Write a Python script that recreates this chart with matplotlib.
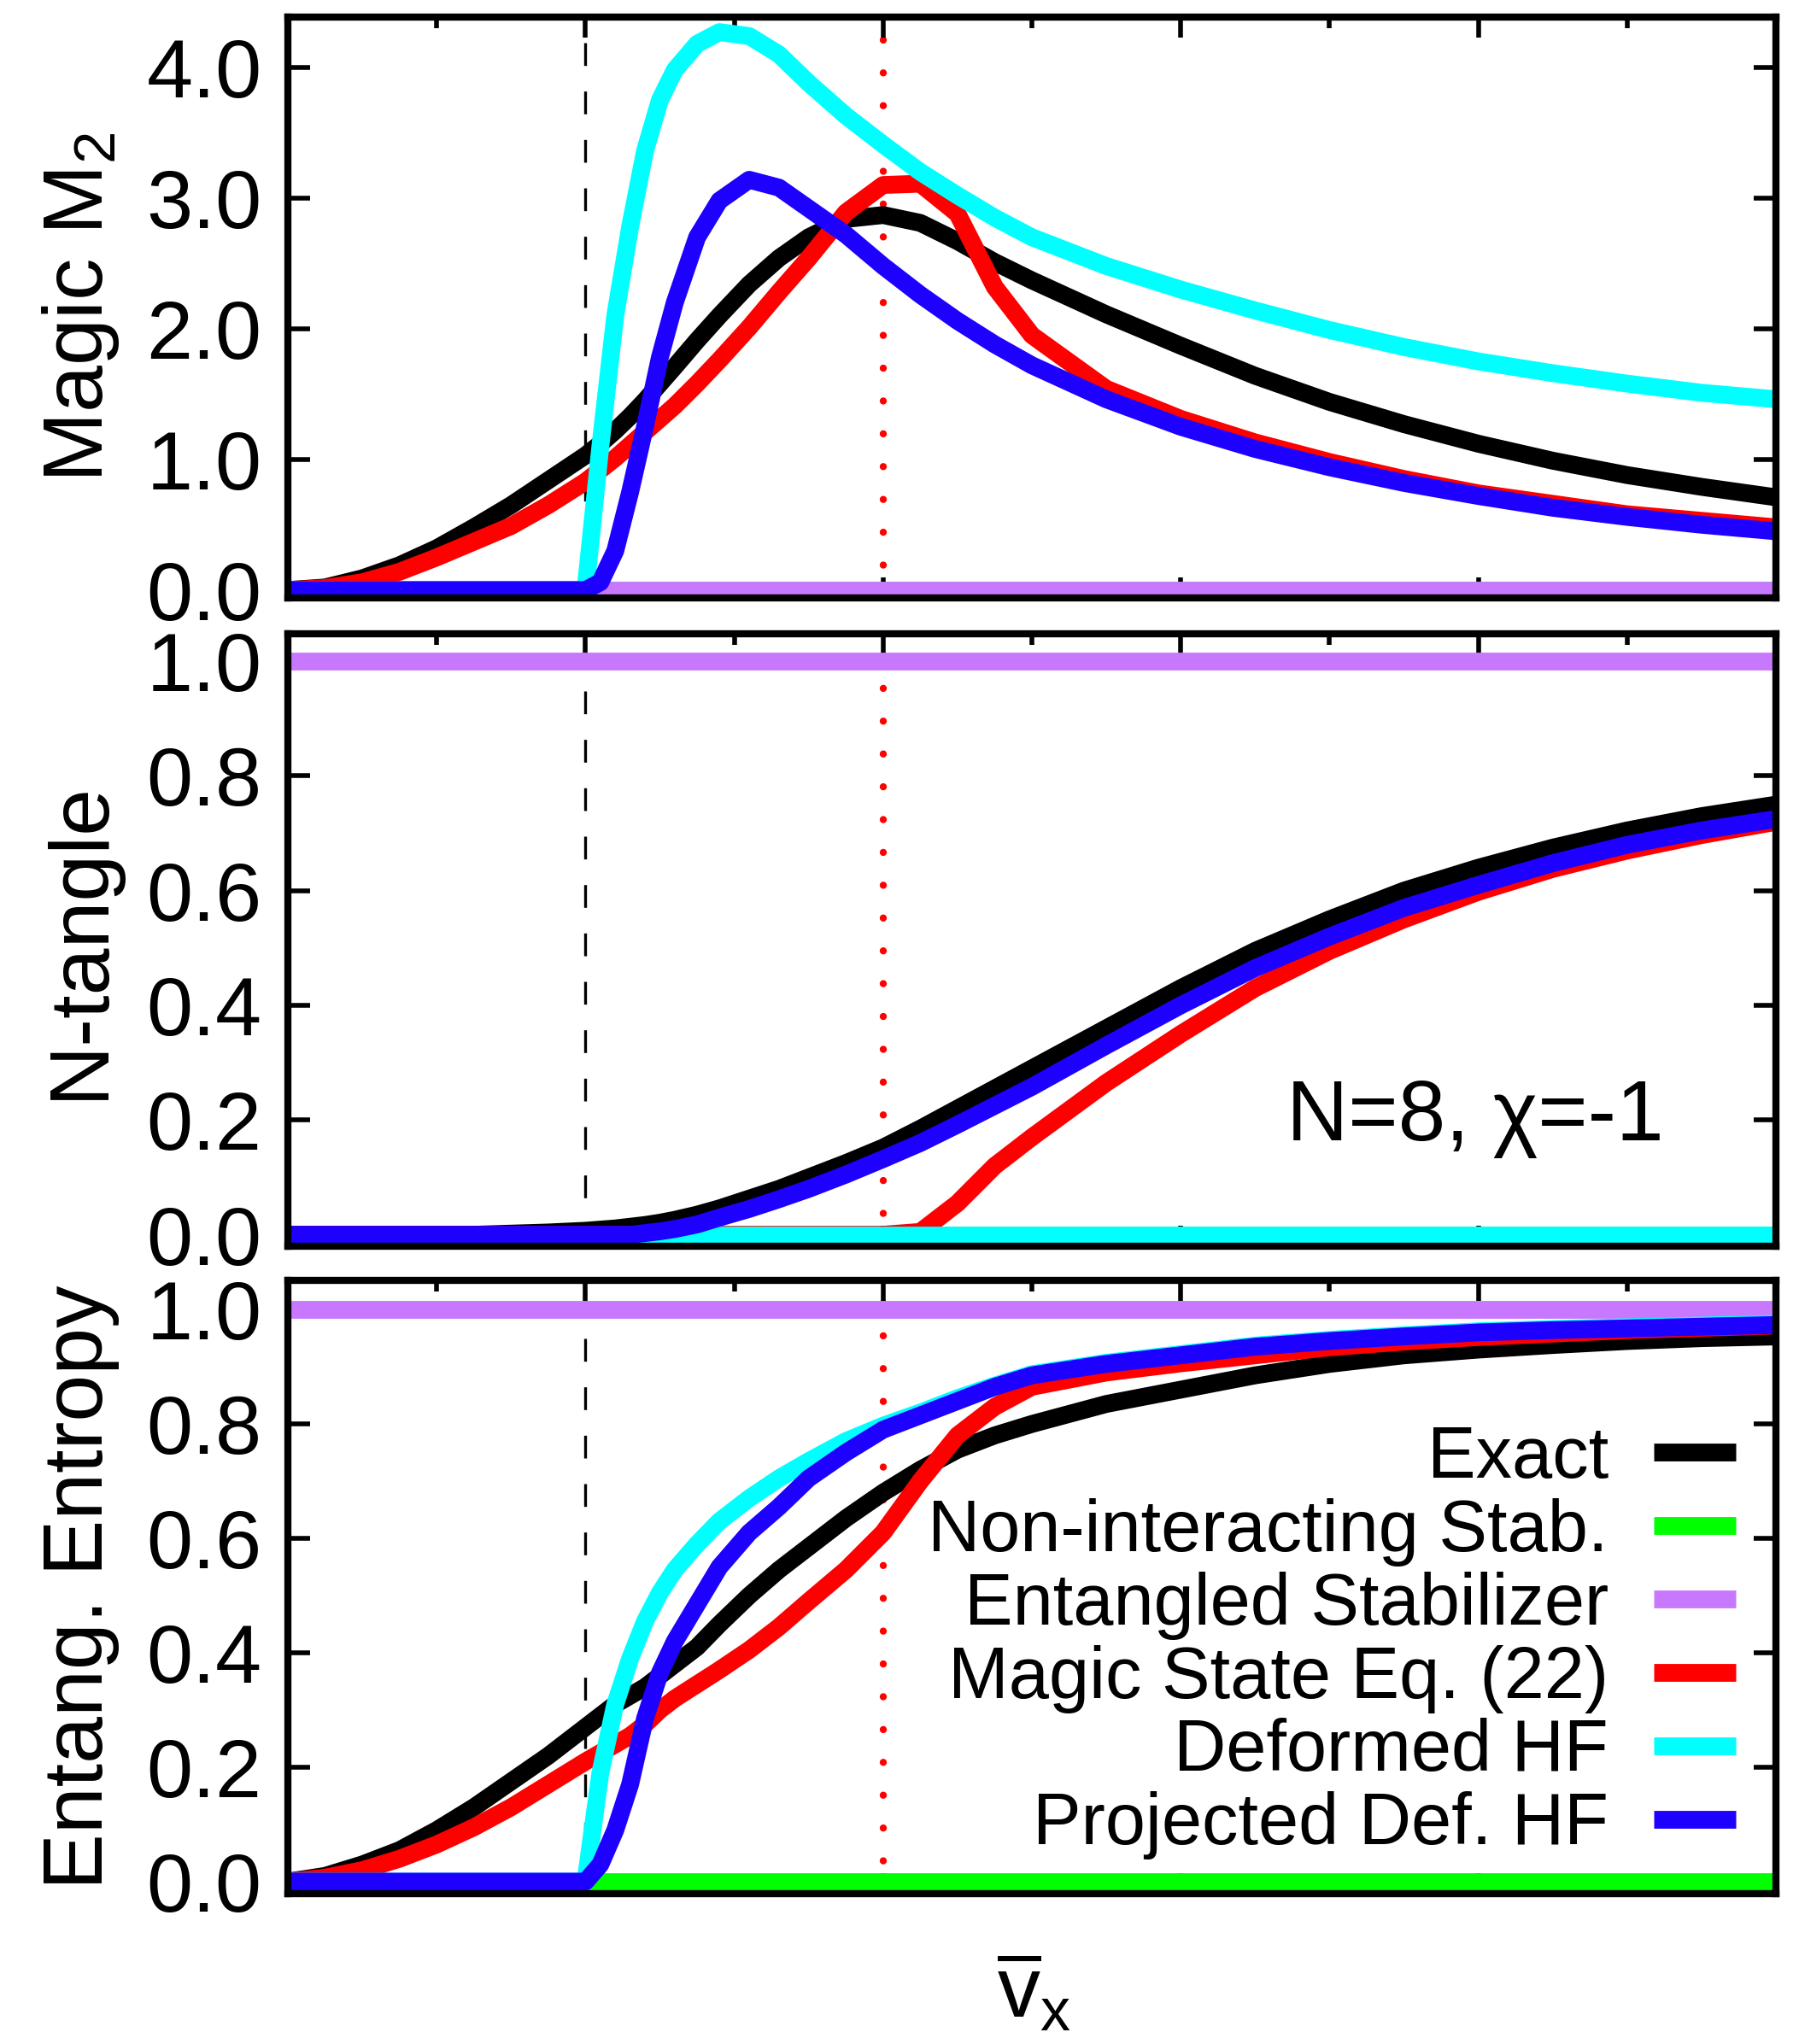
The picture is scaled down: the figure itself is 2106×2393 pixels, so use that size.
import matplotlib
matplotlib.use('Agg')
import matplotlib.pyplot as plt

plt.rcParams['font.family'] = ['Liberation Sans', 'DejaVu Sans']
plt.rcParams['mathtext.fontset'] = 'custom'
plt.rcParams['mathtext.rm'] = 'Liberation Sans'
plt.rcParams['mathtext.it'] = 'Liberation Sans:italic'
plt.rcParams['mathtext.bf'] = 'Liberation Sans:bold'
plt.rcParams['lines.solid_capstyle'] = 'butt'

# x grid (v_x bar)
vx = [0.0, 0.05, 0.1, 0.15, 0.2, 0.25, 0.3, 0.35,
      0.4, 0.42, 0.44, 0.46, 0.48,
      0.5, 0.52, 0.55, 0.58,
      0.62, 0.66, 0.7, 0.75,
      0.8, 0.85, 0.9, 0.95,
      1.0,
      1.1, 1.2, 1.3, 1.4, 1.5, 1.6, 1.7, 1.8, 1.9, 2.0]
# constant curves only need their end points
vx_flat = [0.0, 2.0]

# --- magic M2 (top panel)
magic_exact = [0.0, 0.02, 0.09, 0.19, 0.32, 0.48, 0.65, 0.84,
               1.03, 1.12, 1.22, 1.33, 1.45,
               1.58, 1.71, 1.91, 2.10,
               2.34, 2.54, 2.70, 2.84,
               2.87, 2.81, 2.67, 2.51,
               2.37,
               2.11, 1.87, 1.64, 1.44, 1.27, 1.12, 0.99, 0.88, 0.79, 0.71]
magic_stab = [0.0, 0.0]
magic_ent = [0.0, 0.0]
magic_state = [0.0, 0.015, 0.06, 0.14, 0.25, 0.37, 0.49, 0.65,
               0.83, 0.92, 1.01, 1.11, 1.21,
               1.31, 1.41, 1.58, 1.76,
               2.01, 2.28, 2.54, 2.89,
               3.10, 3.11, 2.88, 2.32,
               1.95,
               1.54, 1.31, 1.13, 0.98, 0.85, 0.74, 0.66, 0.58, 0.53, 0.48]
magic_dhf = [0.0, 0.0, 0.0, 0.0, 0.0, 0.0, 0.0, 0.0,
             0.0, 1.10, 2.10, 2.78, 3.36,
             3.75, 3.98, 4.18, 4.27,
             4.24, 4.10, 3.88, 3.63,
             3.41, 3.20, 3.02, 2.85,
             2.70,
             2.48, 2.30, 2.14, 1.99, 1.86, 1.75, 1.66, 1.58, 1.51, 1.46]
magic_pdhf = [0.0, 0.0, 0.0, 0.0, 0.0, 0.0, 0.0, 0.0,
              0.0, 0.06, 0.30, 0.75, 1.25,
              1.78, 2.20, 2.70, 2.98,
              3.14, 3.08, 2.92, 2.72,
              2.48, 2.26, 2.06, 1.88,
              1.72,
              1.46, 1.25, 1.08, 0.94, 0.82, 0.72, 0.63, 0.56, 0.50, 0.45]

# --- N-tangle (middle panel)
tangle_exact = [0.0, 0.0, 0.0, 0.0, 0.0, 0.0, 0.002, 0.004,
                0.007, 0.009, 0.011, 0.014, 0.017,
                0.021, 0.026, 0.035, 0.046,
                0.063, 0.08, 0.10, 0.125,
                0.152, 0.185, 0.22, 0.255,
                0.29,
                0.36, 0.43, 0.495, 0.55, 0.60, 0.64, 0.675, 0.705, 0.73, 0.75]
tangle_stab = [0.0, 0.0]
tangle_ent = [1.0, 1.0]
tangle_state = [0.0, 0.0, 0.0, 0.0, 0.0, 0.0, 0.0, 0.0,
                0.0, 0.0, 0.0, 0.0, 0.0,
                0.0, 0.0, 0.0, 0.0,
                0.0, 0.0, 0.0, 0.0,
                0.0, 0.005, 0.055, 0.12,
                0.17,
                0.265, 0.35, 0.43, 0.495, 0.55, 0.598, 0.638, 0.67, 0.697, 0.72]
tangle_dhf = [0.0, 0.0]
tangle_pdhf = [0.0, 0.0, 0.0, 0.0, 0.0, 0.0, 0.0, 0.0,
               0.0, 0.0, 0.0, 0.0, 0.003,
               0.006, 0.01, 0.018, 0.03,
               0.045, 0.062, 0.08, 0.105,
               0.132, 0.16, 0.192, 0.225,
               0.258,
               0.33, 0.40, 0.465, 0.52, 0.57, 0.61, 0.648, 0.68, 0.705, 0.725]

# --- entanglement entropy (bottom panel)
ent_exact = [0.0, 0.01, 0.03, 0.055, 0.09, 0.13, 0.175, 0.22,
             0.27, 0.29, 0.31, 0.325, 0.34,
             0.36, 0.38, 0.41, 0.45,
             0.50, 0.545, 0.585, 0.635,
             0.68, 0.72, 0.755, 0.78,
             0.80,
             0.835, 0.86, 0.885, 0.905, 0.92, 0.93, 0.938, 0.945, 0.95, 0.953]
ent_stab = [0.0, 0.0]
ent_ent = [1.0, 1.0]
ent_state = [0.0, 0.007, 0.02, 0.04, 0.065, 0.095, 0.13, 0.17,
             0.21, 0.225, 0.24, 0.255, 0.275,
             0.30, 0.32, 0.345, 0.37,
             0.405, 0.445, 0.49, 0.545,
             0.61, 0.70, 0.78, 0.83,
             0.865,
             0.89, 0.906, 0.92, 0.934, 0.944, 0.952, 0.958, 0.964, 0.968, 0.972]
ent_dhf = [0.0, 0.0, 0.0, 0.0, 0.0, 0.0, 0.0, 0.0,
           0.0, 0.19, 0.31, 0.39, 0.455,
           0.505, 0.545, 0.59, 0.63,
           0.67, 0.705, 0.735, 0.77,
           0.797, 0.82, 0.845, 0.867,
           0.887,
           0.907, 0.922, 0.937, 0.947, 0.955, 0.962, 0.966, 0.969, 0.972, 0.975]
ent_pdhf = [0.0, 0.0, 0.0, 0.0, 0.0, 0.0, 0.0, 0.0,
            0.0, 0.03, 0.09, 0.17, 0.285,
            0.365, 0.42, 0.485, 0.55,
            0.61, 0.655, 0.705, 0.75,
            0.79, 0.815, 0.84, 0.865,
            0.885,
            0.905, 0.92, 0.935, 0.945, 0.953, 0.96, 0.964, 0.967, 0.97, 0.973]

labels = ['Exact', 'Non-interacting Stab.', 'Entangled Stabilizer',
          'Magic State Eq. (22)', 'Deformed HF', 'Projected Def. HF']
colors = ['#000000', '#00FF00', '#C878FF', '#FF0000', '#00FFFF', '#1E00FF']

v_dashed = 0.4
v_dotted = 0.8

fig = plt.figure(figsize=(21.06, 23.93), dpi=100)

panel_left = 0.16002
panel_width = 0.82716
ax1 = fig.add_axes([panel_left, 0.70748, panel_width, 0.28416])
ax2 = fig.add_axes([panel_left, 0.39030, panel_width, 0.29963])
ax3 = fig.add_axes([panel_left, 0.07355, panel_width, 0.30004])


def draw_panel(ax, ys, ylim, yticks, yticklabels):
    ax.axvline(v_dashed, color='black', lw=2.4, ls=(0, (8, 9)), zorder=1)
    ax.axvline(v_dotted, color='red', lw=6, ls=(0, (0.01, 4.6)),
               dash_capstyle='round', zorder=1)
    lines = []
    for y, label, color in zip(ys, labels, colors):
        xs = vx if len(y) == len(vx) else vx_flat
        line, = ax.plot(xs, y, color=color, lw=15, label=label,
                        solid_joinstyle='round', zorder=2)
        lines.append(line)

    ax.set_xlim(0, 2)
    ax.set_ylim(*ylim)
    ax.set_xticks([0.4, 0.8, 1.2, 1.6])
    ax.set_xticks([0.2, 0.6, 1.0, 1.4, 1.8], minor=True)
    ax.tick_params(axis='x', which='major', direction='in', top=True, bottom=True,
                   length=17, width=4, labelbottom=False)
    ax.tick_params(axis='x', which='minor', direction='in', top=True, bottom=False,
                   length=9, width=4)
    ax.set_yticks(yticks)
    ax.set_yticklabels(yticklabels)
    ax.tick_params(axis='y', which='major', direction='in', left=True, right=True,
                   length=19, width=4, labelsize=70, pad=22)
    for s in ax.spines.values():
        s.set_linewidth(6)
    return lines


draw_panel(ax1, [magic_exact, magic_stab, magic_ent, magic_state, magic_dhf, magic_pdhf],
           (-0.06, 4.385), [0, 1, 2, 3, 4], ['0.0', '1.0', '2.0', '3.0', '4.0'])
unit_ticks = [0.0, 0.2, 0.4, 0.6, 0.8, 1.0]
unit_text = ['0.0', '0.2', '0.4', '0.6', '0.8', '1.0']
draw_panel(ax2, [tangle_exact, tangle_stab, tangle_ent, tangle_state, tangle_dhf, tangle_pdhf],
           (-0.02, 1.048), unit_ticks, unit_text)
handles = draw_panel(ax3, [ent_exact, ent_stab, ent_ent, ent_state, ent_dhf, ent_pdhf],
                     (-0.021, 1.051), unit_ticks, unit_text)

ax2.text(1.342, 0.164, 'N=8, χ=-1', fontsize=72, ha='left', va='baseline')

ax3.legend(handles, labels, loc='upper right', bbox_to_anchor=(0.973, 0.765),
           markerfirst=False, frameon=False, fontsize=61, handlelength=1.13,
           handletextpad=0.63, labelspacing=0.07, borderpad=0, borderaxespad=0)

fig.text(0.045, 0.8496, r'Magic M$_\mathrm{2}$', rotation=90, ha='center', va='center', fontsize=71)
fig.text(0.045, 0.5401, 'N-tangle', rotation=90, ha='center', va='center', fontsize=71)
fig.text(0.045, 0.2236, 'Entang. Entropy', rotation=90, ha='center', va='center', fontsize=71)
fig.text(0.575, 0.004, r'$\overline{\mathrm{v}}_{\mathrm{x}}$', ha='center', va='bottom', fontsize=72)

fig.savefig('out.png', dpi=100)
